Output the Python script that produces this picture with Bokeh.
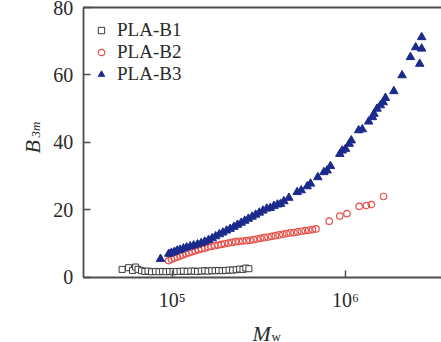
import math
from bokeh.plotting import figure
from bokeh.models import FixedTicker, Label, Range1d
from bokeh.embed import file_html
from bokeh.resources import INLINE

# ---- data ----
b1_mw = [51400, 56000, 59000, 61500, 63500, 66500, 69500, 72500, 76000, 80000,
         84000, 88000, 92000, 96500, 101000, 106000, 111000, 116000, 122000, 128000,
         134000, 140000, 147000, 154000, 161000, 169000, 177000, 185000, 194000, 203000,
         213000, 223000, 234000, 245000, 256000, 266000, 277000]
b1_b = [2.4, 2.9, 2.1, 3.1, 2.4, 2.0, 1.8, 1.9, 1.7, 1.8, 1.7, 1.8, 1.7, 1.8, 1.7,
        1.8, 1.8, 1.9, 1.8, 1.9, 1.9, 1.8, 1.9, 2.0, 1.9, 2.0, 2.0, 2.1, 2.0, 2.1,
        2.2, 2.2, 2.3, 2.5, 2.4, 2.8, 2.6]

b2_mw = [95500, 99000, 103000, 107000, 111000, 115000, 120000, 125000, 130000, 136000,
         142000, 148000, 154000, 161000, 168000, 176000, 184000, 192000, 201000, 211000,
         221000, 232000, 243000, 255000, 268000, 281000, 295000, 309000, 324000, 340000,
         357000, 375000, 394000, 414000, 435000, 457000, 480000, 504000, 530000, 557000,
         585000, 614000, 645000, 675000, 805000, 927000, 1020000, 1200000, 1320000,
         1410000, 1660000]
b2_b = [5.0, 5.4, 5.8, 6.1, 6.4, 6.7, 7.0, 7.3, 7.6, 7.9, 8.2, 8.5, 8.7, 9.0, 9.2,
        9.4, 9.6, 9.8, 10.0, 10.2, 10.4, 10.6, 10.7, 10.8, 10.9, 11.0, 11.2, 11.4,
        11.6, 11.8, 12.0, 12.2, 12.4, 12.6, 12.8, 13.0, 13.2, 13.3, 13.5, 13.7, 13.9,
        14.0, 14.2, 14.4, 16.7, 18.2, 18.9, 21.1, 21.3, 21.6, 24.0]

b3_mw = [85600, 95500, 99000, 103000, 107000, 111000, 116000, 121000, 127000, 133000,
         140000, 147000, 154000, 162000, 170000, 178000, 187000, 196000, 206000, 216000,
         227000, 238000, 250000, 262000, 275000, 289000, 303000, 318000, 334000, 351000,
         368000, 386000, 405000, 422000, 441000, 471000, 526000, 555000, 601000, 628000,
         692000, 750000, 783000, 819000, 927000, 957000, 1000000, 1050000, 1080000,
         1190000, 1250000, 1360000, 1430000, 1460000, 1520000, 1590000, 1650000,
         1700000, 1900000, 2120000, 2370000, 2540000, 2680000, 2750000, 2750000]
b3_b = [5.5, 7.0, 7.3, 7.6, 8.0, 8.2, 8.6, 8.9, 9.2, 9.5, 9.8, 10.2, 10.6, 11.1, 11.6,
        12.2, 12.8, 13.3, 13.9, 14.4, 15.0, 15.6, 16.2, 16.8, 17.4, 18.0, 18.6, 19.2,
        19.8, 20.4, 20.6, 21.2, 21.6, 21.8, 22.6, 23.6, 25.3, 25.8, 27.0, 27.8, 29.7,
        31.2, 31.7, 33.0, 36.6, 37.6, 38.1, 39.6, 40.6, 43.6, 43.9, 46.2, 47.5, 48.5,
        50.0, 51.0, 51.9, 53.2, 55.2, 59.9, 65.3, 68.2, 63.3, 67.8, 71.2]

series_names = ["PLA-B1", "PLA-B2", "PLA-B3"]
y_ticks = [0, 20, 40, 60, 80]
y_lim = (0, 80)
x_lim = (30620, 3580000)
x_ticks = [100000, 1000000]
x_tick_labels = {100000: "10\u2075", 1000000: "10\u2076"}

FONT = "Liberation Serif"
AX = "#4d4d4d"
TXT = "#2a2a2a"

# the frame spans the whole canvas; the axes sit at fixed positions inside it
p = figure(width=441, height=342, x_axis_type="log",
           x_range=Range1d(10214, 3580000), y_range=Range1d(-19.26, 82.07),
           output_backend="svg", toolbar_location=None,
           min_border_left=0, min_border_right=0, min_border_top=0,
           min_border_bottom=0)
p.outline_line_color = None
p.grid.visible = False
p.background_fill_color = "white"

# top border of the plot area, taken from the axis limits
p.segment(x0=[x_lim[0]], y0=[y_lim[1]], x1=[x_lim[1]], y1=[y_lim[1]],
          line_color=AX, line_width=1.8)

p.scatter(b1_mw, b1_b, marker="square", size=6, fill_color="white",
          line_color="#3a3a3a", line_width=1, legend_label=series_names[0])
p.scatter(b2_mw, b2_b, marker="circle", size=6.5, fill_color=None,
          line_color="#e5504a", line_width=1.2, legend_label=series_names[1])
p.scatter(b3_mw, b3_b, marker="triangle", size=8.5, fill_color="#1c2a8c",
          line_color="#1c2a8c", legend_label=series_names[2])

for ax in (p.xaxis[0], p.yaxis[0]):
    ax.axis_line_color = AX
    ax.axis_line_width = 1.8
    ax.major_tick_line_color = AX
    ax.major_tick_line_width = 1.5
    ax.major_tick_in = 7
    ax.major_tick_out = 0
    ax.minor_tick_line_color = None
    ax.major_label_text_font = FONT
    ax.major_label_text_font_size = "20px"
    ax.major_label_text_color = TXT

p.xaxis.ticker = FixedTicker(ticks=x_ticks)
p.xaxis.major_label_overrides = x_tick_labels
p.xaxis.major_label_standoff = 12
p.xaxis.fixed_location = y_lim[0]
p.xaxis.bounds = x_lim
p.yaxis.ticker = FixedTicker(ticks=y_ticks)
p.yaxis.major_label_standoff = 10
p.yaxis.fixed_location = x_lim[0]
p.yaxis.bounds = y_lim

# axis titles (italic with subscripts)
p.add_layout(Label(x=32, y=189, x_units="screen", y_units="screen", text="B",
                   angle=math.pi / 2, text_font=FONT, text_font_style="italic",
                   text_font_size="22px", text_color=TXT, text_baseline="alphabetic",
                   text_align="left"))
p.add_layout(Label(x=34.5, y=205, x_units="screen", y_units="screen", text="3m",
                   angle=math.pi / 2, text_font=FONT, text_font_style="italic",
                   text_font_size="13px", text_color=TXT, text_baseline="alphabetic",
                   text_align="left"))
p.add_layout(Label(x=252, y=9, x_units="screen", y_units="screen", text="M",
                   text_font=FONT, text_font_style="italic", text_font_size="22px",
                   text_color=TXT, text_baseline="alphabetic", text_align="left"))
p.add_layout(Label(x=271, y=6, x_units="screen", y_units="screen", text="w",
                   text_font=FONT, text_font_size="13px",
                   text_color=TXT, text_baseline="alphabetic", text_align="left"))

lg = p.legend[0]
lg.location = (93, 257)
lg.border_line_color = None
lg.background_fill_alpha = 0
lg.padding = 6
lg.spacing = 0
lg.glyph_width = 16
lg.glyph_height = 18
lg.label_standoff = 8
lg.label_text_font = FONT
lg.label_text_font_size = "19px"
lg.label_text_color = TXT

open("out.html", "w").write(file_html(p, INLINE))
